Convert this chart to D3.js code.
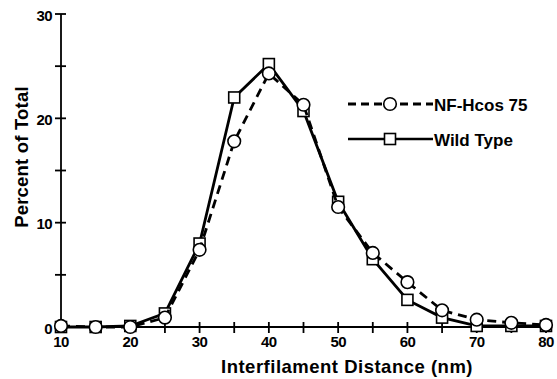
<!DOCTYPE html>
<html>
<head>
<meta charset="utf-8">
<script src="https://cdn.jsdelivr.net/npm/d3@7"></script>
<style>
  body { margin: 0; background: #fff; }
  svg { display: block; font-family: "Liberation Sans", Arial, sans-serif; font-weight: bold; }
</style>
</head>
<body>
<svg id="chart" width="557" height="379"></svg>
<script>
// distances (nm)
const distances = [10, 15, 20, 25, 30, 35, 40, 45, 50, 55, 60, 65, 70, 75, 80]
// percent of total
const wildType = [0, 0, 0.1, 1.3, 8, 22, 25.2, 20.7, 12, 6.5, 2.6, 0.9, 0.1, 0.1, 0.1]
const nfHcos = [0.1, 0, 0, 0.9, 7.4, 17.8, 24.3, 21.3, 11.5, 7.1, 4.3, 1.6, 0.7, 0.4, 0.2]
const xTicks = [10, 20, 30, 40, 50, 60, 70, 80]
const xMinor = [15, 25, 35, 45, 55, 65, 75]
const yTicks = [0, 10, 20, 30]
const yMinor = [5, 15, 25]

const svg = d3.select('#chart')
const x = d3.scaleLinear().domain([10, 80]).range([61, 546])
const y = d3.scaleLinear().domain([0, 30]).range([327, 14])

// axes
const axisG = svg.append('g').attr('stroke', '#000').attr('stroke-width', 1.8)
axisG.append('line').attr('x1', x(10)).attr('x2', x(80) + 4).attr('y1', y(0)).attr('y2', y(0))
axisG.append('line').attr('x1', x(10)).attr('x2', x(10)).attr('y1', y(0)).attr('y2', y(30))

axisG.selectAll('.yt').data(yTicks.concat(yMinor)).join('line')
    .attr('x1', x(10) - 6).attr('x2', x(10) + 5)
    .attr('y1', d => y(d)).attr('y2', d => y(d))
axisG.selectAll('.xt').data(xTicks.slice(1).concat(xMinor)).join('line')
    .attr('x1', d => x(d)).attr('x2', d => x(d))
    .attr('y1', y(0) - 5).attr('y2', y(0) + 6)

svg.append('g').selectAll('text').data(yTicks).join('text')
    .attr('x', x(10) - 9).attr('y', d => y(d) + 1)
    .attr('text-anchor', 'end').attr('dominant-baseline', 'central')
    .attr('font-size', 15).style('letter-spacing', '-0.6px')
    .text(d => d)

svg.append('g').selectAll('text').data(xTicks).join('text')
    .attr('x', d => x(d)).attr('y', y(0) + 14)
    .attr('text-anchor', 'middle').attr('dominant-baseline', 'central')
    .attr('font-size', 15).style('letter-spacing', '-0.6px')
    .text(d => d)

svg.append('text')
    .attr('transform', 'translate(21, 157) rotate(-90)')
    .attr('text-anchor', 'middle').attr('dominant-baseline', 'central')
    .attr('font-size', 18.5).style('letter-spacing', '0.2px')
    .text('Percent of Total')

svg.append('text')
    .attr('x', 347).attr('y', 366)
    .attr('text-anchor', 'middle').attr('dominant-baseline', 'central')
    .attr('font-size', 18.5).style('letter-spacing', '0.5px')
    .text('Interfilament Distance (nm)')

const line = d3.line().x(d => x(d[0])).y(d => y(d[1]))
const wtPts = distances.map((d, i) => [d, wildType[i]])
const nfPts = distances.map((d, i) => [d, nfHcos[i]])

// wild type: solid with squares
svg.append('path').datum(wtPts).attr('d', line)
    .attr('fill', 'none').attr('stroke', '#000').attr('stroke-width', 2.8)
svg.append('g').selectAll('rect').data(wtPts).join('rect')
    .attr('x', d => x(d[0]) - 5.5).attr('y', d => y(d[1]) - 5.5)
    .attr('width', 11).attr('height', 11)
    .attr('fill', '#fff').attr('stroke', '#000').attr('stroke-width', 1.6)

// NF-Hcos 75: dashed with circles
svg.append('path').datum(nfPts).attr('d', line)
    .attr('fill', 'none').attr('stroke', '#000').attr('stroke-width', 2.8)
    .attr('stroke-dasharray', '9,6')
svg.append('g').selectAll('circle').data(nfPts).join('circle')
    .attr('cx', d => x(d[0])).attr('cy', d => y(d[1])).attr('r', 6.3)
    .attr('fill', '#fff').attr('stroke', '#000').attr('stroke-width', 1.6)

// legend
const leg = svg.append('g')
leg.append('line').attr('x1', 348).attr('x2', 433).attr('y1', 104).attr('y2', 104)
    .attr('stroke', '#000').attr('stroke-width', 2.8).attr('stroke-dasharray', '8,5')
leg.append('circle').attr('cx', 390).attr('cy', 104).attr('r', 6.3)
    .attr('fill', '#fff').attr('stroke', '#000').attr('stroke-width', 1.6)
leg.append('text').attr('x', 434).attr('y', 105).attr('dominant-baseline', 'central')
    .attr('font-size', 17).text('NF-Hcos 75')
leg.append('line').attr('x1', 348).attr('x2', 433).attr('y1', 139).attr('y2', 139)
    .attr('stroke', '#000').attr('stroke-width', 2.4)
leg.append('rect').attr('x', 384.5).attr('y', 133.5).attr('width', 11).attr('height', 11)
    .attr('fill', '#fff').attr('stroke', '#000').attr('stroke-width', 1.6)
leg.append('text').attr('x', 434).attr('y', 140).attr('dominant-baseline', 'central')
    .attr('font-size', 17).text('Wild Type')
</script>
</body>
</html>
